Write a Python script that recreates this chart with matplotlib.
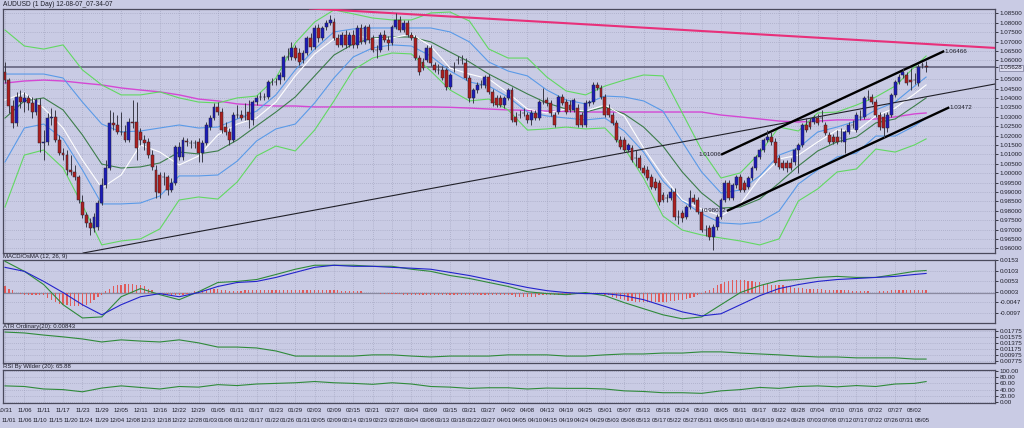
import numpy as np
import pandas as pd
import matplotlib
matplotlib.use("Agg")
import matplotlib.pyplot as plt
import matplotlib.transforms as mtransforms

plt.rcParams['font.family'] = ['Liberation Sans', 'DejaVu Sans']

TITLE = "AUDUSD (1 Day) 12-08-07_07-34-07"
MACD_TITLE = "MACD/OsMA (12, 26, 9)"
ATR_TITLE = "ATR Ordinary(20): 0.00843"
RSI_TITLE = "RSI By Wilder (20): 65.88"
FIRST_DAY = "2011-10-31"
LAST_DAY = "2012-08-07"
HOLIDAYS = ["2011-12-25", "2012-01-01"]

# ---- daily candles, prices in units of 0.0001 ----
OPEN_PIPS = [10538,10495,10357,10267,10405,10378,10400,10373,10325,10362,
             10160,10166,10293,10299,10176,10107,10096,10017,10006,9979,
             9846,9777,9735,9708,9713,9841,9937,10027,10267,10256,
             10219,10219,10176,10272,10272,10219,10176,10166,10096,10017,
             9990,9979,9979,9910,9947,10086,10086,10171,10160,10160,
             10166,10107,10160,10245,10293,10352,10325,10245,10219,10176,
             10309,10309,10299,10325,10283,10378,10405,10405,10405,10485,
             10485,10495,10511,10618,10618,10666,10639,10602,10639,10719,
             10671,10772,10719,10777,10799,10804,10719,10682,10735,10682,
             10735,10682,10772,10698,10777,10719,10655,10655,10735,10708,
             10692,10777,10815,10761,10799,10735,10719,10612,10591,10602,
             10666,10575,10549,10549,10549,10458,10559,10602,10602,10586,
             10506,10400,10442,10469,10469,10511,10432,10400,10400,10362,
             10400,10442,10299,10309,10320,10309,10283,10320,10293,10378,
             10389,10373,10309,10325,10405,10378,10362,10336,10346,10309,
             10256,10373,10378,10469,10453,10405,10346,10309,10267,10176,
             10176,10123,10134,10080,10080,10027,10017,9979,9953,9947,
             9884,9868,9868,9900,9767,9788,9767,9820,9868,9857,
             9793,9697,9708,9660,9713,9767,9857,9947,9868,9937,
             9979,9947,9926,9974,10027,10086,10123,10176,10192,10166,
             10080,10054,10054,10054,10059,10123,10150,10256,10272,10272,
             10293,10293,10256,10203,10192,10192,10187,10166,10219,10256,
             10229,10299,10299,10405,10405,10378,10309,10299,10240,10309,
             10416,10485,10522,10522,10495,10495,10479,10575,10570]
HIGH_PIPS = [10591,10506,10389,10432,10442,10432,10416,10405,10400,10400,
             10229,10320,10346,10336,10203,10134,10123,10096,10043,9990,
             9884,9793,9761,9788,9857,9974,10070,10336,10325,10309,
             10325,10256,10293,10389,10378,10240,10203,10187,10123,10043,
             10006,10006,9990,9974,10150,10166,10192,10187,10176,10176,
             10187,10176,10272,10309,10373,10378,10346,10272,10240,10325,
             10362,10336,10373,10389,10389,10416,10432,10426,10495,10506,
             10506,10538,10628,10666,10698,10682,10666,10655,10730,10745,
             10788,10793,10783,10815,10841,10825,10740,10751,10761,10751,
             10761,10788,10793,10788,10793,10735,10682,10751,10761,10730,
             10788,10852,10836,10815,10815,10751,10735,10628,10612,10682,
             10682,10591,10581,10570,10559,10533,10591,10623,10628,10612,
             10522,10453,10485,10495,10522,10527,10448,10416,10416,10410,
             10453,10458,10325,10336,10346,10325,10336,10336,10389,10453,
             10405,10389,10325,10416,10421,10394,10389,10400,10368,10325,
             10389,10389,10485,10485,10469,10421,10368,10325,10283,10197,
             10192,10160,10150,10123,10096,10043,10038,9995,9974,9963,
             9900,9889,9921,9921,9804,9804,9830,9910,9889,9873,
             9814,9724,9724,9729,9783,9868,9963,9963,9947,9990,
             9995,9963,9985,10038,10096,10134,10187,10229,10219,10187,
             10096,10070,10070,10080,10134,10160,10267,10293,10293,10309,
             10315,10336,10272,10219,10208,10229,10240,10229,10272,10283,
             10325,10336,10410,10442,10421,10394,10325,10320,10325,10426,
             10495,10527,10559,10538,10559,10533,10581,10591,10597]
LOW_PIPS = [10479,10320,10240,10251,10346,10325,10336,10293,10309,10112,
            10070,10150,10256,10166,10096,10070,9990,9990,9963,9841,
            9761,9713,9671,9687,9697,9830,9921,10017,10229,10208,
            10203,10166,10166,10240,10070,10150,10123,10080,10017,9868,
            9868,9937,9884,9900,9937,10070,10070,10144,10134,10134,
            10059,10059,10150,10229,10283,10309,10213,10203,10150,10166,
            10293,10283,10283,10240,10256,10362,10389,10389,10394,10469,
            10469,10474,10495,10602,10602,10602,10575,10586,10628,10655,
            10660,10698,10708,10761,10788,10708,10671,10671,10666,10671,
            10666,10666,10687,10687,10692,10644,10612,10644,10698,10655,
            10682,10767,10751,10751,10724,10708,10602,10522,10549,10591,
            10570,10538,10527,10495,10442,10448,10538,10581,10581,10495,
            10378,10373,10426,10453,10453,10421,10357,10352,10352,10346,
            10389,10272,10256,10293,10304,10267,10256,10283,10283,10368,
            10357,10304,10245,10315,10362,10315,10325,10325,10245,10245,
            10245,10357,10368,10442,10394,10299,10299,10256,10166,10128,
            10112,10112,10059,10038,10017,9990,9963,9916,9910,9830,
            9846,9846,9857,9751,9729,9740,9756,9809,9836,9783,
            9687,9665,9644,9591,9697,9756,9846,9857,9857,9921,
            9900,9900,9916,9963,10017,10075,10112,10166,10150,10043,
            10022,10017,10006,10017,10043,10001,10139,10219,10235,10261,
            10256,10272,10203,10155,10155,10155,10166,10107,10208,10240,
            10219,10283,10288,10389,10368,10299,10229,10187,10219,10299,
            10405,10474,10506,10469,10442,10474,10463,10559,10538]
CLOSE_PIPS = [10495,10357,10267,10405,10378,10400,10373,10325,10389,10160,
              10166,10293,10299,10176,10107,10096,10017,10006,9979,9857,
              9777,9735,9708,9767,9841,9937,10027,10267,10256,10219,
              10221,10176,10272,10267,10134,10176,10160,10096,10033,9900,
              9894,9981,9910,9947,10139,10139,10176,10166,10162,10158,
              10107,10160,10256,10293,10352,10325,10229,10219,10176,10309,
              10307,10293,10297,10283,10378,10400,10403,10407,10485,10483,
              10487,10522,10618,10616,10666,10612,10591,10639,10719,10671,
              10772,10719,10772,10799,10815,10719,10682,10735,10682,10735,
              10682,10772,10698,10777,10708,10655,10653,10735,10708,10692,
              10777,10815,10761,10799,10735,10719,10612,10538,10559,10666,
              10586,10549,10547,10506,10458,10522,10561,10600,10604,10506,
              10400,10442,10469,10467,10511,10432,10373,10362,10362,10400,
              10442,10283,10272,10311,10318,10283,10320,10293,10378,10376,
              10373,10320,10256,10405,10373,10325,10336,10389,10256,10256,
              10373,10378,10469,10453,10405,10309,10309,10267,10176,10139,
              10123,10150,10070,10078,10027,10001,9974,9926,9921,9846,
              9857,9866,9900,9767,9765,9761,9820,9868,9846,9793,
              9697,9695,9660,9713,9767,9857,9947,9868,9937,9979,
              9910,9910,9974,10027,10086,10123,10176,10192,10166,10054,
              10033,10027,10027,10027,10123,10150,10256,10229,10245,10293,
              10267,10291,10213,10166,10166,10166,10189,10219,10256,10254,
              10309,10297,10400,10403,10378,10309,10245,10240,10309,10416,
              10485,10511,10538,10479,10485,10493,10565,10573,10563]

# ---- overlay lines, read every 5 bars (and at the last bar) ----
BB2_UPPER = [1.0761,1.0676,1.0660,1.0682,1.0549,1.0469,1.0416,1.0416,1.0432,1.0400,
             1.0378,1.0373,1.0400,1.0410,1.0506,1.0692,1.0804,1.0868,1.0847,1.0825,
             1.0815,1.0815,1.0852,1.0857,1.0809,1.0660,1.0612,1.0612,1.0511,1.0437,
             1.0416,1.0463,1.0495,1.0522,1.0517,1.0320,1.0123,0.9974,1.0001,1.0107,
             1.0245,1.0224,1.0320,1.0325,1.0362,1.0405,1.0463,1.0565,1.0623]
BB2_LOWER = [0.9820,1.0096,1.0123,1.0027,0.9830,0.9618,0.9639,0.9650,0.9703,0.9857,
             0.9873,0.9862,0.9953,1.0091,1.0144,1.0118,1.0229,1.0384,1.0549,1.0612,
             1.0639,1.0634,1.0543,1.0442,1.0384,1.0394,1.0336,1.0229,1.0235,1.0245,
             1.0235,1.0240,1.0134,0.9974,0.9772,0.9697,0.9671,0.9655,0.9639,0.9618,
             0.9650,0.9852,0.9916,1.0006,1.0022,1.0128,1.0112,1.0150,1.0182]
BB1_UPPER = [1.0527,1.0527,1.0527,1.0506,1.0378,1.0261,1.0219,1.0224,1.0240,1.0256,
             1.0240,1.0245,1.0288,1.0330,1.0416,1.0549,1.0660,1.0751,1.0767,1.0772,
             1.0772,1.0772,1.0772,1.0751,1.0698,1.0591,1.0543,1.0517,1.0442,1.0389,
             1.0368,1.0410,1.0405,1.0384,1.0330,1.0166,1.0006,0.9894,0.9910,0.9985,
             1.0096,1.0134,1.0219,1.0245,1.0277,1.0336,1.0378,1.0463,1.0511]
BB1_LOWER = [1.0059,1.0240,1.0261,1.0182,1.0017,0.9836,0.9836,0.9841,0.9878,0.9985,
             0.9985,0.9990,1.0064,1.0171,1.0235,1.0261,1.0373,1.0506,1.0618,1.0666,
             1.0682,1.0676,1.0623,1.0543,1.0485,1.0463,1.0405,1.0325,1.0304,1.0293,
             1.0283,1.0293,1.0224,1.0112,0.9958,0.9852,0.9783,0.9735,0.9729,0.9740,
             0.9798,0.9942,1.0017,1.0086,1.0107,1.0197,1.0197,1.0251,1.0293]
SMA20 = [1.0293,1.0384,1.0400,1.0336,1.0203,1.0048,1.0027,1.0033,1.0054,1.0112,
         1.0102,1.0118,1.0176,1.0251,1.0325,1.0405,1.0517,1.0628,1.0687,1.0719,
         1.0724,1.0724,1.0698,1.0644,1.0591,1.0527,1.0474,1.0421,1.0373,1.0341,
         1.0325,1.0352,1.0315,1.0245,1.0144,1.0006,0.9894,0.9814,0.9820,0.9862,
         0.9947,1.0038,1.0118,1.0166,1.0192,1.0267,1.0288,1.0357,1.0400]
SMA10 = [1.0389,1.0426,1.0346,1.0240,1.0070,0.9921,0.9990,1.0150,1.0112,1.0043,
         1.0091,1.0203,1.0261,1.0293,1.0378,1.0517,1.0634,1.0714,1.0735,1.0714,
         1.0719,1.0740,1.0676,1.0559,1.0527,1.0501,1.0426,1.0341,1.0320,1.0341,
         1.0330,1.0362,1.0304,1.0134,0.9985,0.9857,0.9809,0.9772,0.9836,0.9974,
         1.0075,1.0096,1.0166,1.0229,1.0224,1.0304,1.0346,1.0421,1.0469]
SMA100 = [1.0479,1.0490,1.0495,1.0490,1.0479,1.0469,1.0453,1.0442,1.0432,1.0416,
          1.0394,1.0384,1.0368,1.0362,1.0357,1.0357,1.0352,1.0352,1.0352,1.0352,
          1.0352,1.0352,1.0352,1.0350,1.0346,1.0341,1.0336,1.0334,1.0330,1.0328,
          1.0325,1.0325,1.0325,1.0325,1.0325,1.0325,1.0325,1.0309,1.0299,1.0288,
          1.0277,1.0272,1.0277,1.0283,1.0283,1.0288,1.0299,1.0315,1.0320]

# ---- indicator panels ----
MACD_MAIN = [0.0149,0.0101,0.0038,-0.0058,-0.0121,-0.0116,-0.0020,0.0019,-0.0010,-0.0034,
             0.0004,0.0048,0.0053,0.0062,0.0086,0.0111,0.0130,0.0130,0.0130,0.0125,
             0.0125,0.0111,0.0101,0.0081,0.0067,0.0048,0.0029,0.0004,-0.0005,-0.0010,
             0.0000,-0.0015,-0.0048,-0.0077,-0.0106,-0.0125,-0.0116,-0.0058,0.0000,0.0033,
             0.0057,0.0062,0.0072,0.0077,0.0072,0.0072,0.0086,0.0101,0.0105]
MACD_SIGNAL = [0.0120,0.0101,0.0053,0.0000,-0.0058,-0.0106,-0.0058,-0.0020,-0.0005,-0.0020,
               0.0000,0.0029,0.0048,0.0053,0.0072,0.0096,0.0120,0.0130,0.0125,0.0125,
               0.0120,0.0116,0.0111,0.0096,0.0081,0.0062,0.0043,0.0024,0.0009,0.0000,
               -0.0005,-0.0005,-0.0015,-0.0034,-0.0063,-0.0092,-0.0111,-0.0101,-0.0058,-0.0015,
               0.0019,0.0038,0.0053,0.0062,0.0067,0.0072,0.0077,0.0086,0.0091]
# OsMA histogram per bar, units of 0.0001
OSMA_E4 = [29,19,10,0,-5,-10,-10,-10,-14,-14,
           -14,-24,-34,-43,-53,-58,-58,-62,-62,-62,
           -62,-58,-48,-34,-19,-10,5,19,29,34,
           38,43,43,43,38,38,29,19,10,0,
           -5,-10,-14,-14,-14,-14,-10,-5,0,5,
           5,10,14,19,19,19,14,10,5,5,
           5,5,10,10,10,10,10,14,14,14,
           14,14,14,14,14,14,14,14,14,10,
           10,10,10,10,10,10,10,5,5,5,
           5,5,5,0,0,0,0,-5,-5,-5,
           -5,-5,-5,-10,-10,-10,-10,-10,-10,-10,
           -10,-10,-14,-14,-14,-14,-14,-14,-14,-14,
           -14,-14,-14,-14,-14,-14,-14,-14,-14,-14,
           -14,-14,-19,-19,-19,-19,-19,-19,-14,-14,
           -14,-14,-14,-10,-10,-10,-10,-5,-5,-5,
           -5,-5,-5,-5,-5,-10,-14,-19,-24,-29,
           -34,-38,-38,-43,-43,-43,-43,-43,-43,-43,
           -43,-43,-38,-38,-34,-34,-29,-24,-19,-10,
           -5,5,14,24,34,43,48,53,58,58,
           58,58,53,53,48,48,43,43,38,38,
           38,34,29,29,24,24,24,19,19,19,
           19,19,14,14,14,14,14,10,10,5,
           5,5,5,5,0,0,5,5,5,10,
           10,10,14,14,14,14,14,14,14]
ATR20 = [0.0174,0.0171,0.0164,0.0158,0.0151,0.0141,0.0148,0.0144,0.0141,0.0148,
         0.0138,0.0124,0.0124,0.0121,0.0111,0.0094,0.0094,0.0094,0.0094,0.0098,
         0.0098,0.0094,0.0091,0.0094,0.0094,0.0094,0.0098,0.0098,0.0098,0.0094,
         0.0094,0.0098,0.0101,0.0101,0.0104,0.0104,0.0108,0.0108,0.0104,0.0101,
         0.0098,0.0094,0.0091,0.0091,0.0088,0.0088,0.0088,0.0084,0.0084]
RSI20 = [52,50,42,40,33,45,52,47,42,50,
         48,56,53,58,60,62,66,62,60,57,
         62,58,50,48,44,46,46,42,45,44,
         44,42,36,34,30,30,28,36,40,47,
         44,50,52,49,53,50,58,60,65.88]

# ---- drawn objects: (bar0, price0, bar1, price1) ----
TREND_THIN = (20.2, 0.9575, 255.8, 1.0474)
TREND_TOP = (78.8, 1.0876, 255.8, 1.0666)
CHANNEL_UP = (185.3, 1.01006, 242.4, 1.06466)
CHANNEL_LO = (186.8, 0.98012, 243.7, 1.03472)
BID_LEVEL = 1.05628

# ---------------------------------------------------------------
o = np.array(OPEN_PIPS) / 1e4
h = np.array(HIGH_PIPS) / 1e4
l = np.array(LOW_PIPS) / 1e4
c = np.array(CLOSE_PIPS) / 1e4
n = len(c)
xb = np.arange(n)
xs = np.r_[np.arange(0, 236, 5), n - 1]

days = pd.date_range(FIRST_DAY, LAST_DAY)
days = [d for d in days if d.weekday() != 5 and d.strftime("%Y-%m-%d") not in HOLIDAYS]
days = days[:n]

BG = '#c9cbe4'
GRID = '#9b9db8'
FRAME = '#4a4a5c'
TXT = '#1e1e2a'
FS = 4.5
FSX = 4.3

fig = plt.figure(figsize=(10.24, 4.28), dpi=100, facecolor=BG)
W, H = 1024.0, 428.0

def axes_px(top, bottom):
    return fig.add_axes([3 / W, 1 - bottom / H, (995 - 3) / W, (bottom - top) / H])

ax = axes_px(9, 253)
axm = axes_px(260, 323)
axa = axes_px(329, 363)
axr = axes_px(370, 403)

XL = (-0.52, 255.8)
for a in (ax, axm, axa, axr):
    a.set_facecolor(BG)
    a.set_xlim(*XL)
    a.set_xticks([])
    a.yaxis.tick_right()
    a.tick_params(axis='y', labelsize=FS, length=2, pad=1.5, colors=TXT, width=0.6)
    for s in a.spines.values():
        s.set_color(FRAME)
        s.set_linewidth(0.9)
    for gx in range(0, 240, 5):
        a.axvline(gx, color=GRID, lw=0.5, ls=(0, (1, 2)), zorder=0)

# ---- main panel ----
ylo, yhi = 0.9575, 1.0873
ax.set_ylim(ylo, yhi)
levels = [round(v, 3) for v in np.arange(0.960, 1.0851, 0.005)]
levels = [v for v in levels if abs(v - 1.055) > 1e-6]
for v in levels:
    ax.axhline(v, color=GRID, lw=0.5, ls=(0, (1, 2)), zorder=0)
ticks = levels + [BID_LEVEL]
ax.set_yticks(ticks)
ax.set_yticklabels([f"{v:.5f}" for v in ticks])
for t in ax.get_yticklabels():
    if t.get_text() == f"{BID_LEVEL:.5f}":
        t.set_bbox(dict(facecolor='#dcdcf0', edgecolor='#7a7a98', lw=0.5, pad=0.5))

ax.axhline(BID_LEVEL, color='#6c6c86', lw=1.3, zorder=2)

ax.plot(xs, SMA100, color='#d448d4', lw=1.0, zorder=3)
ax.plot(xs, BB2_UPPER, color='#62d862', lw=0.8, zorder=3)
ax.plot(xs, BB2_LOWER, color='#62d862', lw=0.8, zorder=3)
ax.plot(xs, BB1_UPPER, color='#5a9ae8', lw=0.8, zorder=3)
ax.plot(xs, BB1_LOWER, color='#5a9ae8', lw=0.8, zorder=3)
ax.plot(xs, SMA20, color='#3d7d4a', lw=0.8, zorder=3)
ax.plot(xs, SMA10, color='#ffffff', lw=0.8, zorder=3)

ax.plot(TREND_THIN[0::2], TREND_THIN[1::2], color='#202028', lw=0.8, zorder=4)
ax.plot(TREND_TOP[0::2], TREND_TOP[1::2], color='#e8307a', lw=1.5, zorder=4)
ax.plot(CHANNEL_UP[0::2], CHANNEL_UP[1::2], color='#000000', lw=1.7, zorder=4)
ax.plot(CHANNEL_LO[0::2], CHANNEL_LO[1::2], color='#000000', lw=1.7, zorder=4)
for seg in (CHANNEL_UP, CHANNEL_LO):
    ax.text(seg[0] - 0.3, seg[1], f"{seg[1]:.5f}", fontsize=FS, color=TXT,
            ha='right', va='center', zorder=6)
    ax.text(seg[2] + 0.3, seg[3], f"{seg[3]:.5f}", fontsize=FS, color=TXT,
            ha='left', va='center', zorder=6)

up = c >= o
body_lo = np.minimum(o, c)
body_h = np.maximum(np.abs(c - o), 0.00012)
doji = np.abs(c - o) < 0.00025
ax.vlines(xb, l, h, color='#3a3a48', lw=0.7, zorder=5)
cols = np.where(doji, '#2a2a36', np.where(up, '#1c1cb8', '#ad1f1f'))
ax.bar(xb, body_h, bottom=body_lo, width=0.74, color=cols,
       edgecolor='#262632', linewidth=0.35, zorder=6)

# ---- MACD panel ----
axm.set_ylim(-0.0145, 0.0155)
mt = [0.0153, 0.0103, 0.0053, 0.0003, -0.0047, -0.0097]
axm.set_yticks(mt)
axm.set_yticklabels([f"{v:.4f}" for v in mt])
for v in mt:
    axm.axhline(v, color=GRID, lw=0.5, ls=(0, (1, 2)), zorder=0)
axm.axhline(0.0, color='#8a8aa0', lw=0.9, zorder=1)
axm.bar(xb, np.array(OSMA_E4) / 1e4, width=0.32, color='#e05a5a', zorder=2)
axm.plot(xs, MACD_MAIN, color='#2f8a3a', lw=0.8, zorder=3)
axm.plot(xs, MACD_SIGNAL, color='#2323cc', lw=0.8, zorder=3)

# ---- ATR panel ----
axa.set_ylim(0.00709, 0.01842)
at = [0.01775, 0.01575, 0.01375, 0.01175, 0.00975, 0.00775]
axa.set_yticks(at)
axa.set_yticklabels([f"{v:.5f}" for v in at])
for v in at:
    axa.axhline(v, color=GRID, lw=0.5, ls=(0, (1, 2)), zorder=0)
axa.plot(xs, ATR20, color='#2f8a3a', lw=0.8)

# ---- RSI panel ----
axr.set_ylim(-3, 103)
rt = [100, 80, 60, 40, 20, 0]
axr.set_yticks(rt)
axr.set_yticklabels([f"{v:.2f}" for v in rt])
for v in rt:
    axr.axhline(v, color=GRID, lw=0.5, ls=(0, (1, 2)), zorder=0)
axr.plot(xs, RSI20, color='#2f8a3a', lw=0.8)

# ---- texts ----
fig.text(3 / W, 1 - 4.5 / H, TITLE, fontsize=4.8, color=TXT, va='center')
fig.text(3 / W, 1 - 256.5 / H, MACD_TITLE, fontsize=FSX, color=TXT, va='center')
fig.text(3 / W, 1 - 326.3 / H, ATR_TITLE, fontsize=FSX, color=TXT, va='center')
fig.text(3 / W, 1 - 366.5 / H, RSI_TITLE, fontsize=FSX, color=TXT, va='center')

tr = mtransforms.blended_transform_factory(axr.transData, fig.transFigure)
for i in range(0, n, 5):
    if i <= 235:
        axr.text(i, 1 - 410 / H, days[i].strftime("%m/%d"), transform=tr,
                 fontsize=FSX, color=TXT, ha='center', va='center', clip_on=False)
for i in range(1, n, 4):
    axr.text(i, 1 - 420 / H, days[i].strftime("%m/%d"), transform=tr,
             fontsize=FSX, color=TXT, ha='center', va='center', clip_on=False)

fig.savefig("out.png", dpi=100, facecolor=BG)
